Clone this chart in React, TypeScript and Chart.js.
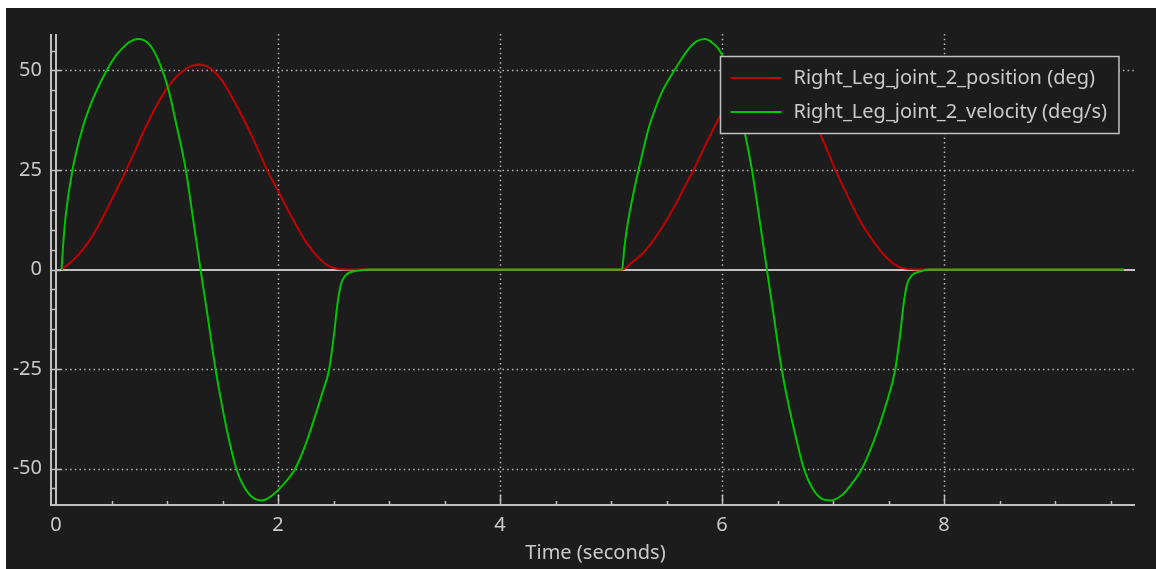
import { useEffect, useRef } from "react";
import { Chart, registerables } from "chart.js";

Chart.register(...registerables);

// ---- data ----
const positionTime = [
  0.05, 0.12, 0.18, 0.24, 0.30, 0.36, 0.42, 0.48, 0.54, 0.635, 0.72, 0.78, 0.84, 0.90, 0.96, 1.02, 1.08, 1.14,
  1.21, 1.29, 1.36, 1.41, 1.50, 1.59, 1.68, 1.77, 1.90, 2.01, 2.13, 2.25, 2.37, 2.45, 2.53, 2.64,
  5.10, 5.19, 5.28, 5.355, 5.43, 5.505, 5.58, 5.66, 5.745, 5.85, 5.94, 6.02, 6.10, 6.20, 6.29, 6.38, 6.46, 6.54,
  6.62, 6.70, 6.78, 6.854, 6.94, 7.02, 7.14, 7.26, 7.38, 7.45, 7.53, 7.62, 7.77, 9.62,
];
const positionDeg = [
  0, 1.5, 3.1, 5.0, 7.2, 9.9, 13.0, 16.3, 19.7, 25.1, 30.3, 34.1, 37.6, 40.9, 43.8, 46.3, 48.3, 49.8,
  51.0, 51.5, 51.0, 50.1, 47.3, 43.0, 38.3, 33.2, 25.1, 19.2, 12.8, 7.0, 2.8, 1.0, 0.2, 0,
  0, 1.8, 3.9, 6.4, 9.3, 12.6, 16.3, 20.6, 25.1, 31.3, 36.3, 40.5, 44.3, 48.0, 50.3, 51.3, 50.9, 49.3,
  46.7, 43.5, 40.0, 35.9, 30.5, 25.1, 18.0, 11.4, 6.4, 3.9, 1.8, 0.4, 0, 0,
];
const velocityTime = [
  0.05, 0.065, 0.089, 0.149, 0.239, 0.329, 0.449, 0.539, 0.60, 0.659, 0.74, 0.839, 0.929, 1.019, 1.079, 1.169,
  1.229, 1.289, 1.36, 1.439, 1.499, 1.559, 1.625, 1.679, 1.769, 1.859, 1.949, 2.039, 2.153, 2.249, 2.339, 2.399,
  2.459, 2.504, 2.534, 2.564, 2.609, 2.699, 2.82,
  5.099, 5.12, 5.15, 5.19, 5.249, 5.339, 5.40, 5.459, 5.579, 5.699, 5.77, 5.849, 5.91, 5.969, 6.03, 6.09, 6.15,
  6.209, 6.269, 6.329, 6.389, 6.46, 6.539, 6.599, 6.659, 6.734, 6.809, 6.899, 6.974, 7.079, 7.169, 7.259, 7.379,
  7.469, 7.559, 7.604, 7.634, 7.664, 7.709, 7.799, 7.86, 9.62,
];
const velocityDegS = [
  0, 6.4, 13.9, 25.1, 35.5, 42.6, 49.6, 53.7, 55.6, 57.1, 57.9, 56.6, 52.1, 44.6, 37.1, 25.1,
  13.9, 2.4, -10.6, -25.3, -34.7, -42.8, -50.1, -53.8, -57.2, -58.0, -56.7, -54.3, -50.1, -43.9, -36.4, -31.0,
  -25.3, -16.4, -9.0, -4.0, -1.5, -0.4, 0,
  0, 5.5, 11.5, 17.5, 25.1, 35.5, 40.5, 44.6, 50.4, 55.4, 57.3, 57.9, 57.0, 55.4, 52.0, 46.8, 40.5,
  33.8, 25.1, 14.2, 2.8, -10.6, -25.3, -33.9, -41.4, -49.7, -54.7, -57.6, -58.0, -56.7, -53.8, -50.1, -42.2,
  -34.7, -25.3, -16.4, -9.0, -4.0, -1.5, -0.4, 0, 0,
];
const seriesLabels = ["Right_Leg_joint_2_position (deg)", "Right_Leg_joint_2_velocity (deg/s)"];
const xTickValues = [0, 2, 4, 6, 8];
const yTickValues = [-50, -25, 0, 25, 50];
const xMinorStep = 0.5;
const yMinorStep = 5;
const xAxisTitle = "Time (seconds)";
const X_MIN = 0;
const X_MAX = 9.72;
const Y_MIN = -59.15;
const Y_MAX = 59.15;

// ---- styles ----
const BG = "#1c1c1c";
const TEXT = "#cacaca";
const AXIS = "#c0c0c0";
const GRID = "#b4b4b4";
const RED = "#c40000";
const GREEN = "#00c400";
const FONT = '"Noto Sans", "DejaVu Sans", sans-serif';
const FONT_SIZE = 20;

const decorPlugin = {
  id: "decor",
  beforeDatasetsDraw(chart: any) {
    const { ctx, chartArea: a, scales } = chart;
    const x = scales.x;
    const y = scales.y;
    ctx.save();
    // dotted grid
    ctx.strokeStyle = GRID;
    ctx.lineWidth = 1.5;
    ctx.setLineDash([1.5, 3.2]);
    for (const v of xTickValues) {
      if (v === X_MIN) continue;
      const px = Math.round(x.getPixelForValue(v)) + 0.5;
      ctx.beginPath();
      ctx.moveTo(px, a.top);
      ctx.lineTo(px, a.bottom);
      ctx.stroke();
    }
    for (const v of yTickValues) {
      if (v === 0) continue;
      const py = Math.round(y.getPixelForValue(v)) + 0.5;
      ctx.beginPath();
      ctx.moveTo(a.left, py);
      ctx.lineTo(a.right, py);
      ctx.stroke();
    }
    ctx.setLineDash([]);
    // solid zero line
    const zy = Math.round(y.getPixelForValue(0));
    ctx.strokeStyle = AXIS;
    ctx.lineWidth = 2;
    ctx.beginPath();
    ctx.moveTo(a.left, zy);
    ctx.lineTo(a.right, zy);
    ctx.stroke();
    ctx.restore();
  },
  afterDatasetsDraw(chart: any) {
    const { ctx, chartArea: a, scales } = chart;
    const x = scales.x;
    const y = scales.y;
    ctx.save();
    // axes
    ctx.strokeStyle = AXIS;
    ctx.lineWidth = 2;
    const back = Math.round(a.left) - 5;
    const inner = Math.round(a.left);
    const bottom = Math.round(a.bottom);
    ctx.beginPath();
    ctx.moveTo(back, a.top);
    ctx.lineTo(back, bottom + 1);
    ctx.moveTo(inner, a.top);
    ctx.lineTo(inner, bottom);
    ctx.moveTo(back - 1, bottom);
    ctx.lineTo(a.right, bottom);
    ctx.stroke();
    // y ticks
    ctx.lineWidth = 1.5;
    ctx.beginPath();
    for (let v = Math.ceil(Y_MIN / yMinorStep) * yMinorStep; v <= Y_MAX; v += yMinorStep) {
      const py = Math.round(y.getPixelForValue(v)) + 0.5;
      const major = yTickValues.includes(v);
      ctx.moveTo(back, py);
      ctx.lineTo(major ? back + 10 : inner, py);
    }
    // x ticks
    for (let v = X_MIN; v <= X_MAX + 1e-9; v += xMinorStep) {
      if (v === X_MIN) continue;
      const px = Math.round(x.getPixelForValue(v)) + 0.5;
      const major = xTickValues.includes(v);
      ctx.moveTo(px, bottom);
      ctx.lineTo(px, bottom - (major ? 10 : 4));
    }
    ctx.stroke();

    // legend
    ctx.font = `${FONT_SIZE}px ${FONT}`;
    const textW = Math.max(...seriesLabels.map((l) => ctx.measureText(l).width));
    const boxW = 73 + textW + 12;
    const boxH = 77;
    const bx = Math.round(a.right - 17 - boxW) + 0.5;
    const by = Math.round(a.top + 22) + 0.5;
    ctx.fillStyle = BG;
    ctx.fillRect(bx, by, boxW, boxH);
    ctx.strokeStyle = AXIS;
    ctx.lineWidth = 1.5;
    ctx.strokeRect(bx, by, boxW, boxH);
    const colors = [RED, GREEN];
    seriesLabels.forEach((label, i) => {
      const cy = by + 21.5 + i * 34;
      ctx.strokeStyle = colors[i];
      ctx.lineWidth = 2;
      ctx.beginPath();
      ctx.moveTo(bx + 10, cy);
      ctx.lineTo(bx + 61, cy);
      ctx.stroke();
      ctx.fillStyle = TEXT;
      ctx.textBaseline = "middle";
      ctx.textAlign = "left";
      ctx.fillText(label, bx + 73, cy);
    });
    ctx.restore();
  },
};

export default function App() {
  const ref = useRef<HTMLCanvasElement>(null);
  useEffect(() => {
    const canvas = ref.current;
    if (!canvas) return;
    const chart = new Chart(canvas, {
      type: "line",
      data: {
        datasets: [
          {
            label: seriesLabels[0],
            data: positionTime.map((t, i) => ({ x: t, y: positionDeg[i] })),
            borderColor: RED,
            borderWidth: 2,
            pointRadius: 0,
            cubicInterpolationMode: "monotone",
            fill: false,
            order: 2,
          },
          {
            label: seriesLabels[1],
            data: velocityTime.map((t, i) => ({ x: t, y: velocityDegS[i] })),
            borderColor: GREEN,
            borderWidth: 2,
            pointRadius: 0,
            cubicInterpolationMode: "monotone",
            fill: false,
            order: 1,
          },
        ],
      },
      options: {
        responsive: false,
        animation: false,
        devicePixelRatio: 1,
        events: [],
        layout: { padding: { top: 21, right: 21, left: 0, bottom: 0 } },
        plugins: { legend: { display: false }, tooltip: { enabled: false } },
        scales: {
          x: {
            type: "linear",
            min: X_MIN,
            max: X_MAX,
            afterBuildTicks: (s: any) => {
              s.ticks = xTickValues.map((v) => ({ value: v }));
            },
            afterFit: (s: any) => {
              s.height = 64;
            },
            grid: { display: false, drawTicks: false },
            border: { display: false },
            ticks: {
              color: TEXT,
              font: { family: FONT, size: FONT_SIZE },
              padding: 8,
              maxRotation: 0,
              autoSkip: false,
              callback: (v: any) => String(v),
            },
            title: {
              display: true,
              text: xAxisTitle,
              color: TEXT,
              font: { family: FONT, size: FONT_SIZE },
              padding: { top: 0, bottom: 4 },
            },
          },
          y: {
            type: "linear",
            min: Y_MIN,
            max: Y_MAX,
            afterBuildTicks: (s: any) => {
              s.ticks = yTickValues.map((v) => ({ value: v }));
            },
            afterFit: (s: any) => {
              s.width = 50;
            },
            grid: { display: false, drawTicks: false },
            border: { display: false },
            ticks: {
              color: TEXT,
              font: { family: FONT, size: FONT_SIZE },
              padding: 14,
              autoSkip: false,
              callback: (v: any) => String(v),
            },
          },
        },
      },
      plugins: [decorPlugin],
    } as any);
    return () => chart.destroy();
  }, []);
  return (
    <div style={{ position: "absolute", left: 6, top: 8, width: 1150, height: 561, background: BG }}>
      <canvas ref={ref} width={1150} height={561} style={{ display: "block" }} />
    </div>
  );
}
